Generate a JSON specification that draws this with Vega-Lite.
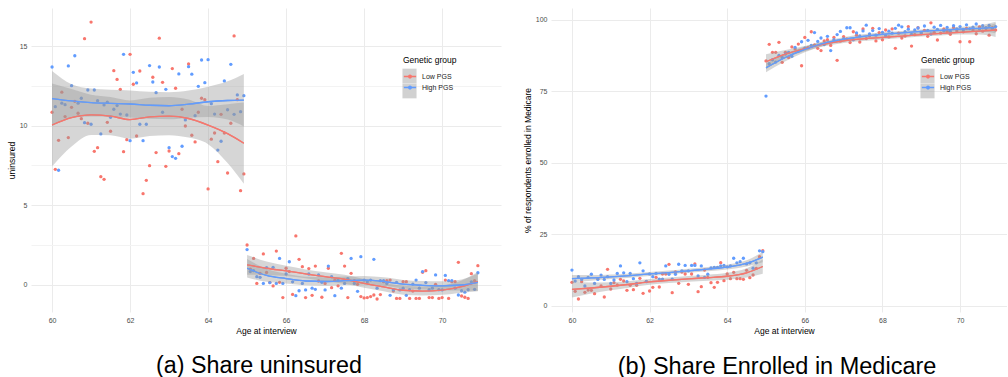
{
  "$schema": "https://vega.github.io/schema/vega-lite/v6.json",
  "padding": {"left": 7, "top": 8, "right": 0, "bottom": 0},
  "background": "white",
  "spacing": 22,
  "resolve": {"scale": {"color": "independent", "fill": "independent"}, "legend": {"color": "independent", "fill": "independent"}},
  "config": {
    "view": {"stroke": null},
    "font": "Liberation Sans",
    "axis": {"domain": false, "ticks": false, "labelFontSize": 7, "labelColor": "#4D4D4D", "labelFont": "Liberation Sans", "titleFont": "Liberation Sans", "titleFontSize": 8.5, "titleFontWeight": "normal", "titleColor": "#000000", "gridColor": "#EBEBEB", "gridWidth": 1, "labelPadding": 4},
    "legend": {"labelFont": "Liberation Sans", "titleFont": "Liberation Sans"}
  },
  "datasets": {
    "unins_pts": [
      {"age":60,"Low PGS":10.84,"High PGS":13.68},{"age":60.083,"Low PGS":7.26,"High PGS":11.19},{"age":60.167,"Low PGS":9.08,"High PGS":7.2},{"age":60.25,"Low PGS":12.1,"High PGS":11.41},{"age":60.333,"Low PGS":10.57,"High PGS":11.32},{"age":60.417,"Low PGS":9.25,"High PGS":13.75},{"age":60.5,"Low PGS":11.15,"High PGS":12.51},{"age":60.583,"Low PGS":11.53,"High PGS":14.39},{"age":60.667,"Low PGS":10.78,"High PGS":11.41},{"age":60.75,"Low PGS":10.44,"High PGS":11.72},{"age":60.833,"Low PGS":15.46,"High PGS":10.19},{"age":60.917,"Low PGS":10.15,"High PGS":12.24},
      {"age":61,"Low PGS":16.5,"High PGS":10.09},{"age":61.083,"Low PGS":8.39,"High PGS":12.24},{"age":61.167,"Low PGS":8.62,"High PGS":11.57},{"age":61.25,"Low PGS":6.8,"High PGS":9.48},{"age":61.333,"Low PGS":6.63,"High PGS":11.3},{"age":61.417,"Low PGS":10.21,"High PGS":11.47},{"age":61.5,"Low PGS":9.65,"High PGS":10.53},{"age":61.583,"Low PGS":13.45,"High PGS":11.03},{"age":61.667,"Low PGS":12.9,"High PGS":11.26},{"age":61.75,"Low PGS":12.28,"High PGS":10.73},{"age":61.833,"Low PGS":8.37,"High PGS":14.48},{"age":61.917,"Low PGS":9.12,"High PGS":10.67},
      {"age":62,"Low PGS":14.48,"High PGS":9.06},{"age":62.083,"Low PGS":12.6,"High PGS":13.35},{"age":62.167,"Low PGS":9.35,"High PGS":12.68},{"age":62.25,"Low PGS":13.43,"High PGS":10.09},{"age":62.333,"Low PGS":5.73,"High PGS":9.06},{"age":62.417,"Low PGS":6.57,"High PGS":10.09},{"age":62.5,"Low PGS":7.49,"High PGS":13.77},{"age":62.583,"Low PGS":13.04,"High PGS":12.74},{"age":62.667,"Low PGS":8.31,"High PGS":12.07},{"age":62.75,"Low PGS":15.49,"High PGS":13.68},{"age":62.833,"Low PGS":12.72,"High PGS":10.84},{"age":62.917,"Low PGS":7.45,"High PGS":12.28},
      {"age":63,"Low PGS":8.41,"High PGS":8.62},{"age":63.083,"Low PGS":13.58,"High PGS":8.06},{"age":63.167,"Low PGS":12.35,"High PGS":7.95},{"age":63.25,"Low PGS":8.24,"High PGS":13.25},{"age":63.333,"Low PGS":11.03,"High PGS":8.71},{"age":63.417,"Low PGS":9.98,"High PGS":10.36},{"age":63.5,"Low PGS":13.87,"High PGS":13.7},{"age":63.583,"Low PGS":9.4,"High PGS":13.23},{"age":63.667,"Low PGS":8.98,"High PGS":10.63},{"age":63.75,"Low PGS":10.84,"High PGS":12.47},{"age":63.833,"Low PGS":11.72,"High PGS":14.12},{"age":63.917,"Low PGS":11.63,"High PGS":12.7},
      {"age":64,"Low PGS":6.03,"High PGS":14.14},{"age":64.083,"Low PGS":9.15,"High PGS":11.38},{"age":64.167,"Low PGS":9.54,"High PGS":10.73},{"age":64.25,"Low PGS":7.74,"High PGS":8.47},{"age":64.333,"Low PGS":10.71,"High PGS":9.02},{"age":64.417,"Low PGS":9.54,"High PGS":12.81},{"age":64.5,"Low PGS":7.03,"High PGS":11.0},{"age":64.583,"Low PGS":10.15,"High PGS":13.85},{"age":64.667,"Low PGS":15.63,"High PGS":10.71},{"age":64.75,"Low PGS":11.63,"High PGS":11.93},{"age":64.833,"Low PGS":5.92,"High PGS":10.88},{"age":64.917,"Low PGS":6.97,"High PGS":11.88},
      {"age":65,"Low PGS":2.51,"High PGS":2.22},{"age":65.083,"Low PGS":1.0,"High PGS":0.84},{"age":65.167,"Low PGS":1.67,"High PGS":0.9},{"age":65.25,"Low PGS":0.1,"High PGS":0.52},{"age":65.333,"Low PGS":0.73,"High PGS":0.48},{"age":65.417,"Low PGS":1.95,"High PGS":0.1},{"age":65.5,"Low PGS":0.79,"High PGS":1.09},{"age":65.583,"Low PGS":0.15,"High PGS":0.15},{"age":65.667,"Low PGS":-0.06,"High PGS":1.11},{"age":65.75,"Low PGS":2.13,"High PGS":0.1},{"age":65.833,"Low PGS":0.17,"High PGS":1.67},{"age":65.917,"Low PGS":-0.79,"High PGS":0.1},
      {"age":66,"Low PGS":1.05,"High PGS":0.69},{"age":66.083,"Low PGS":0.84,"High PGS":1.46},{"age":66.167,"Low PGS":-0.59,"High PGS":0.2},{"age":66.25,"Low PGS":3.08,"High PGS":-0.67},{"age":66.333,"Low PGS":1.61,"High PGS":-0.36},{"age":66.417,"Low PGS":1.15,"High PGS":0.1},{"age":66.5,"Low PGS":-0.79,"High PGS":-0.31},{"age":66.583,"Low PGS":1.03,"High PGS":0.69},{"age":66.667,"Low PGS":-0.65,"High PGS":-0.2},{"age":66.75,"Low PGS":1.19,"High PGS":-0.27},{"age":66.833,"Low PGS":0.25,"High PGS":0.63},{"age":66.917,"Low PGS":-0.77,"High PGS":0.17},
      {"age":67,"Low PGS":0.1,"High PGS":-0.31},{"age":67.083,"Low PGS":1.05,"High PGS":1.19},{"age":67.167,"Low PGS":-0.17,"High PGS":0.52},{"age":67.25,"Low PGS":0.3,"High PGS":-0.67},{"age":67.333,"Low PGS":-0.05,"High PGS":0.31},{"age":67.417,"Low PGS":1.99,"High PGS":-0.2},{"age":67.5,"Low PGS":1.19,"High PGS":0.1},{"age":67.583,"Low PGS":-0.79,"High PGS":0.4},{"age":67.667,"Low PGS":0.73,"High PGS":1.67},{"age":67.75,"Low PGS":0.27,"High PGS":0.1},{"age":67.833,"Low PGS":0.04,"High PGS":-0.4},{"age":67.917,"Low PGS":-0.73,"High PGS":1.78},
      {"age":68,"Low PGS":-0.81,"High PGS":0.31},{"age":68.083,"Low PGS":-0.79,"High PGS":0.2},{"age":68.167,"Low PGS":-0.73,"High PGS":0.31},{"age":68.25,"Low PGS":-0.63,"High PGS":1.61},{"age":68.333,"Low PGS":-0.88,"High PGS":-0.2},{"age":68.417,"Low PGS":-0.6,"High PGS":0.27},{"age":68.5,"Low PGS":0.21,"High PGS":0.27},{"age":68.583,"Low PGS":0.27,"High PGS":0.1},{"age":68.667,"Low PGS":0.31,"High PGS":-0.65},{"age":68.75,"Low PGS":-0.38,"High PGS":-0.3},{"age":68.833,"Low PGS":-0.84,"High PGS":0.17},{"age":68.917,"Low PGS":-0.84,"High PGS":-0.31},
      {"age":69,"Low PGS":0.21,"High PGS":-0.2},{"age":69.083,"Low PGS":0.21,"High PGS":-0.65},{"age":69.167,"Low PGS":-0.84,"High PGS":-0.3},{"age":69.25,"Low PGS":-0.38,"High PGS":0.06},{"age":69.333,"Low PGS":-0.84,"High PGS":0.31},{"age":69.417,"Low PGS":-0.84,"High PGS":-0.2},{"age":69.5,"Low PGS":0.8,"High PGS":0.84},{"age":69.583,"Low PGS":0.9,"High PGS":0.15},{"age":69.667,"Low PGS":-0.79,"High PGS":-0.3},{"age":69.75,"Low PGS":-0.79,"High PGS":-0.2},{"age":69.833,"Low PGS":0.04,"High PGS":0.63},{"age":69.917,"Low PGS":-0.84,"High PGS":-0.3},
      {"age":70,"Low PGS":-0.79,"High PGS":-0.31},{"age":70.083,"Low PGS":0.31,"High PGS":0.6},{"age":70.167,"Low PGS":-0.84,"High PGS":0.27},{"age":70.25,"Low PGS":0.21,"High PGS":0.27},{"age":70.333,"Low PGS":0.21,"High PGS":-0.2},{"age":70.417,"Low PGS":1.42,"High PGS":-0.63},{"age":70.5,"Low PGS":-0.69,"High PGS":-0.36},{"age":70.583,"Low PGS":-0.77,"High PGS":-0.45},{"age":70.667,"Low PGS":-0.84,"High PGS":-0.3},{"age":70.75,"Low PGS":0.71,"High PGS":0.2},{"age":70.833,"Low PGS":0.27,"High PGS":-0.27},{"age":70.917,"Low PGS":1.21,"High PGS":0.77}
    ],
    "unins_fit": [
      {"group":"High PGS","seg":1,"age":60,"fit":11.7,"lo":9.97,"hi":13.43},{"group":"High PGS","seg":1,"age":60.5,"fit":11.55,"lo":10.5,"hi":12.6},{"group":"High PGS","seg":1,"age":61,"fit":11.45,"lo":10.57,"hi":12.33},{"group":"High PGS","seg":1,"age":61.5,"fit":11.4,"lo":10.55,"hi":12.25},{"group":"High PGS","seg":1,"age":62,"fit":11.36,"lo":10.51,"hi":12.21},{"group":"High PGS","seg":1,"age":62.5,"fit":11.28,"lo":10.43,"hi":12.13},{"group":"High PGS","seg":1,"age":63,"fit":11.25,"lo":10.4,"hi":12.1},{"group":"High PGS","seg":1,"age":63.5,"fit":11.35,"lo":10.5,"hi":12.2},{"group":"High PGS","seg":1,"age":64,"fit":11.5,"lo":10.55,"hi":12.45},{"group":"High PGS","seg":1,"age":64.5,"fit":11.58,"lo":10.38,"hi":12.78},{"group":"High PGS","seg":1,"age":64.917,"fit":11.6,"lo":9.95,"hi":13.25},
      {"group":"Low PGS","seg":1,"age":60,"fit":10.04,"lo":7.44,"hi":12.64},{"group":"Low PGS","seg":1,"age":60.5,"fit":10.5,"lo":8.7,"hi":12.3},{"group":"Low PGS","seg":1,"age":61,"fit":10.68,"lo":9.42,"hi":11.94},{"group":"Low PGS","seg":1,"age":61.5,"fit":10.6,"lo":9.4,"hi":11.8},{"group":"Low PGS","seg":1,"age":62,"fit":10.38,"lo":9.18,"hi":11.58},{"group":"Low PGS","seg":1,"age":62.5,"fit":10.55,"lo":9.35,"hi":11.75},{"group":"Low PGS","seg":1,"age":63,"fit":10.6,"lo":9.4,"hi":11.8},{"group":"Low PGS","seg":1,"age":63.5,"fit":10.45,"lo":9.25,"hi":11.65},{"group":"Low PGS","seg":1,"age":64,"fit":10.04,"lo":8.84,"hi":11.24},{"group":"Low PGS","seg":1,"age":64.5,"fit":9.5,"lo":7.65,"hi":11.35},{"group":"Low PGS","seg":1,"age":64.917,"fit":8.9,"lo":6.35,"hi":11.45},
      {"group":"Low PGS","seg":2,"age":65,"fit":1.26,"lo":0.64,"hi":1.88},{"group":"Low PGS","seg":2,"age":65.5,"fit":1.05,"lo":0.63,"hi":1.47},{"group":"Low PGS","seg":2,"age":66,"fit":0.88,"lo":0.56,"hi":1.2},{"group":"Low PGS","seg":2,"age":66.5,"fit":0.7,"lo":0.42,"hi":0.98},{"group":"Low PGS","seg":2,"age":67,"fit":0.52,"lo":0.24,"hi":0.8},{"group":"Low PGS","seg":2,"age":67.5,"fit":0.36,"lo":0.08,"hi":0.64},{"group":"Low PGS","seg":2,"age":68,"fit":0.1,"lo":-0.18,"hi":0.38},{"group":"Low PGS","seg":2,"age":68.5,"fit":-0.12,"lo":-0.4,"hi":0.16},{"group":"Low PGS","seg":2,"age":69,"fit":-0.33,"lo":-0.61,"hi":-0.05},{"group":"Low PGS","seg":2,"age":69.5,"fit":-0.38,"lo":-0.66,"hi":-0.1},{"group":"Low PGS","seg":2,"age":70,"fit":-0.32,"lo":-0.62,"hi":-0.02},{"group":"Low PGS","seg":2,"age":70.5,"fit":-0.1,"lo":-0.48,"hi":0.28},{"group":"Low PGS","seg":2,"age":70.917,"fit":0.21,"lo":-0.39,"hi":0.81},
      {"group":"High PGS","seg":2,"age":65,"fit":1.05,"lo":0.47,"hi":1.63},{"group":"High PGS","seg":2,"age":65.5,"fit":0.6,"lo":0.2,"hi":1.0},{"group":"High PGS","seg":2,"age":66,"fit":0.4,"lo":0.1,"hi":0.7},{"group":"High PGS","seg":2,"age":66.5,"fit":0.25,"lo":-0.02,"hi":0.52},{"group":"High PGS","seg":2,"age":67,"fit":0.22,"lo":-0.05,"hi":0.49},{"group":"High PGS","seg":2,"age":67.5,"fit":0.27,"lo":0.0,"hi":0.54},{"group":"High PGS","seg":2,"age":68,"fit":0.3,"lo":0.03,"hi":0.57},{"group":"High PGS","seg":2,"age":68.5,"fit":0.22,"lo":-0.05,"hi":0.49},{"group":"High PGS","seg":2,"age":69,"fit":0.05,"lo":-0.22,"hi":0.32},{"group":"High PGS","seg":2,"age":69.5,"fit":-0.02,"lo":-0.29,"hi":0.25},{"group":"High PGS","seg":2,"age":70,"fit":-0.05,"lo":-0.33,"hi":0.23},{"group":"High PGS","seg":2,"age":70.5,"fit":0.0,"lo":-0.35,"hi":0.35},{"group":"High PGS","seg":2,"age":70.917,"fit":0.17,"lo":-0.38,"hi":0.72}
    ],
    "med_pts": [
      {"age":60,"Low PGS":8.17,"High PGS":12.47},{"age":60.083,"Low PGS":5.02,"High PGS":8.6},{"age":60.167,"Low PGS":2.34,"High PGS":10.15},{"age":60.25,"Low PGS":8.4,"High PGS":9.2},{"age":60.333,"Low PGS":4.67,"High PGS":6.9},{"age":60.417,"Low PGS":5.49,"High PGS":9.9},{"age":60.5,"Low PGS":5.37,"High PGS":11.0},{"age":60.583,"Low PGS":4.21,"High PGS":7.8},{"age":60.667,"Low PGS":9.45,"High PGS":9.2},{"age":60.75,"Low PGS":6.89,"High PGS":10.7},{"age":60.833,"Low PGS":3.04,"High PGS":9.2},{"age":60.917,"Low PGS":12.71,"High PGS":10.15},
      {"age":61,"Low PGS":5.84,"High PGS":7.8},{"age":61.083,"Low PGS":8.05,"High PGS":9.0},{"age":61.167,"Low PGS":7.24,"High PGS":11.3},{"age":61.25,"Low PGS":9.22,"High PGS":13.9},{"age":61.333,"Low PGS":8.64,"High PGS":11.5},{"age":61.417,"Low PGS":5.37,"High PGS":8.4},{"age":61.5,"Low PGS":7.12,"High PGS":11.3},{"age":61.583,"Low PGS":5.61,"High PGS":9.45},{"age":61.667,"Low PGS":7.12,"High PGS":7.8},{"age":61.75,"Low PGS":9.57,"High PGS":15.0},{"age":61.833,"Low PGS":4.32,"High PGS":12.2},{"age":61.917,"Low PGS":8.52,"High PGS":8.4},
      {"age":62,"Low PGS":5.14,"High PGS":11.1},{"age":62.083,"Low PGS":6.42,"High PGS":10.15},{"age":62.167,"Low PGS":9.92,"High PGS":11.3},{"age":62.25,"Low PGS":6.54,"High PGS":9.3},{"age":62.333,"Low PGS":11.08,"High PGS":9.3},{"age":62.417,"Low PGS":11.08,"High PGS":13.9},{"age":62.5,"Low PGS":14.46,"High PGS":11.0},{"age":62.583,"Low PGS":4.56,"High PGS":9.3},{"age":62.667,"Low PGS":11.78,"High PGS":11.0},{"age":62.75,"Low PGS":7.82,"High PGS":14.5},{"age":62.833,"Low PGS":11.78,"High PGS":12.2},{"age":62.917,"Low PGS":11.08,"High PGS":14.1},
      {"age":63,"Low PGS":7.47,"High PGS":12.2},{"age":63.083,"Low PGS":11.08,"High PGS":14.1},{"age":63.167,"Low PGS":14.58,"High PGS":14.1},{"age":63.25,"Low PGS":4.91,"High PGS":10.4},{"age":63.333,"Low PGS":6.66,"High PGS":13.9},{"age":63.417,"Low PGS":12.48,"High PGS":9.9},{"age":63.5,"Low PGS":9.92,"High PGS":11.0},{"age":63.583,"Low PGS":8.05,"High PGS":13.2},{"age":63.667,"Low PGS":6.42,"High PGS":13.4},{"age":63.75,"Low PGS":8.17,"High PGS":13.4},{"age":63.833,"Low PGS":15.05,"High PGS":13.9},{"age":63.917,"Low PGS":8.75,"High PGS":14.1},
      {"age":64,"Low PGS":11.08,"High PGS":13.6},{"age":64.083,"Low PGS":9.45,"High PGS":13.9},{"age":64.167,"Low PGS":11.67,"High PGS":16.6},{"age":64.25,"Low PGS":9.45,"High PGS":15.0},{"age":64.333,"Low PGS":9.45,"High PGS":15.4},{"age":64.417,"Low PGS":9.22,"High PGS":16.6},{"age":64.5,"Low PGS":12.36,"High PGS":14.6},{"age":64.583,"Low PGS":9.8,"High PGS":15.0},{"age":64.667,"Low PGS":10.73,"High PGS":13.1},{"age":64.75,"Low PGS":13.07,"High PGS":15.0},{"age":64.833,"Low PGS":17.14,"High PGS":19.2},{"age":64.917,"Low PGS":19.24,"High PGS":18.9},
      {"age":65,"Low PGS":85.6,"High PGS":73.3},{"age":65.083,"Low PGS":91.4,"High PGS":84.6},{"age":65.167,"Low PGS":88.6,"High PGS":86.0},{"age":65.25,"Low PGS":88.6,"High PGS":85.2},{"age":65.333,"Low PGS":92.1,"High PGS":87.5},{"age":65.417,"Low PGS":85.1,"High PGS":86.8},{"age":65.5,"Low PGS":88.6,"High PGS":88.0},{"age":65.583,"Low PGS":86.8,"High PGS":88.6},{"age":65.667,"Low PGS":90.5,"High PGS":87.2},{"age":65.75,"Low PGS":89.8,"High PGS":90.3},{"age":65.833,"Low PGS":91.5,"High PGS":89.0},{"age":65.917,"Low PGS":83.9,"High PGS":92.3},
      {"age":66,"Low PGS":93.8,"High PGS":90.1},{"age":66.083,"Low PGS":90.2,"High PGS":92.8},{"age":66.167,"Low PGS":95.8,"High PGS":91.0},{"age":66.25,"Low PGS":91.2,"High PGS":95.5},{"age":66.333,"Low PGS":90.0,"High PGS":92.4},{"age":66.417,"Low PGS":89.2,"High PGS":93.6},{"age":66.5,"Low PGS":92.6,"High PGS":91.3},{"age":66.583,"Low PGS":93.0,"High PGS":94.2},{"age":66.667,"Low PGS":91.0,"High PGS":89.2},{"age":66.75,"Low PGS":93.8,"High PGS":93.0},{"age":66.833,"Low PGS":85.8,"High PGS":94.8},{"age":66.917,"Low PGS":92.5,"High PGS":95.9},
      {"age":67,"Low PGS":94.1,"High PGS":93.3},{"age":67.083,"Low PGS":93.3,"High PGS":97.2},{"age":67.167,"Low PGS":92.0,"High PGS":97.2},{"age":67.25,"Low PGS":95.8,"High PGS":93.0},{"age":67.333,"Low PGS":94.6,"High PGS":95.4},{"age":67.417,"Low PGS":92.2,"High PGS":94.3},{"age":67.5,"Low PGS":96.8,"High PGS":96.1},{"age":67.583,"Low PGS":93.4,"High PGS":98.1},{"age":67.667,"Low PGS":94.4,"High PGS":95.0},{"age":67.75,"Low PGS":97.0,"High PGS":96.2},{"age":67.833,"Low PGS":92.6,"High PGS":94.6},{"age":67.917,"Low PGS":95.5,"High PGS":96.9},
      {"age":68,"Low PGS":93.0,"High PGS":95.6},{"age":68.083,"Low PGS":96.4,"High PGS":94.4},{"age":68.167,"Low PGS":94.0,"High PGS":96.0},{"age":68.25,"Low PGS":96.8,"High PGS":95.3},{"age":68.333,"Low PGS":90.0,"High PGS":97.0},{"age":68.417,"Low PGS":95.3,"High PGS":98.1},{"age":68.5,"Low PGS":93.6,"High PGS":97.5},{"age":68.583,"Low PGS":94.3,"High PGS":95.8},{"age":68.667,"Low PGS":97.6,"High PGS":96.7},{"age":68.75,"Low PGS":90.8,"High PGS":94.9},{"age":68.833,"Low PGS":94.8,"High PGS":96.4},{"age":68.917,"Low PGS":97.2,"High PGS":97.1},
      {"age":69,"Low PGS":95.1,"High PGS":95.5},{"age":69.083,"Low PGS":96.3,"High PGS":97.8},{"age":69.167,"Low PGS":94.2,"High PGS":96.3},{"age":69.25,"Low PGS":98.9,"High PGS":95.0},{"age":69.333,"Low PGS":95.6,"High PGS":97.4},{"age":69.417,"Low PGS":92.9,"High PGS":96.6},{"age":69.5,"Low PGS":95.3,"High PGS":98.0},{"age":69.583,"Low PGS":96.8,"High PGS":96.1},{"age":69.667,"Low PGS":95.9,"High PGS":97.3},{"age":69.75,"Low PGS":94.9,"High PGS":95.9},{"age":69.833,"Low PGS":97.3,"High PGS":97.9},{"age":69.917,"Low PGS":96.1,"High PGS":96.8},
      {"age":70,"Low PGS":92.3,"High PGS":97.6},{"age":70.083,"Low PGS":95.8,"High PGS":96.5},{"age":70.167,"Low PGS":97.0,"High PGS":98.2},{"age":70.25,"Low PGS":92.3,"High PGS":96.9},{"age":70.333,"Low PGS":96.4,"High PGS":97.4},{"age":70.417,"Low PGS":95.1,"High PGS":98.5},{"age":70.5,"Low PGS":97.5,"High PGS":96.8},{"age":70.583,"Low PGS":96.0,"High PGS":97.9},{"age":70.667,"Low PGS":96.9,"High PGS":97.2},{"age":70.75,"Low PGS":94.6,"High PGS":98.0},{"age":70.833,"Low PGS":97.2,"High PGS":96.9},{"age":70.917,"Low PGS":96.4,"High PGS":97.6}
    ],
    "med_fit": [
      {"group":"High PGS","seg":1,"age":60,"fit":9.45,"lo":8.15,"hi":10.75},{"group":"High PGS","seg":1,"age":60.5,"fit":9.7,"lo":8.7,"hi":10.7},{"group":"High PGS","seg":1,"age":61,"fit":10.1,"lo":9.3,"hi":10.9},{"group":"High PGS","seg":1,"age":61.5,"fit":10.55,"lo":9.8,"hi":11.3},{"group":"High PGS","seg":1,"age":62,"fit":11.1,"lo":10.4,"hi":11.8},{"group":"High PGS","seg":1,"age":62.5,"fit":11.6,"lo":10.9,"hi":12.3},{"group":"High PGS","seg":1,"age":63,"fit":12.2,"lo":11.5,"hi":12.9},{"group":"High PGS","seg":1,"age":63.5,"fit":12.8,"lo":12.05,"hi":13.55},{"group":"High PGS","seg":1,"age":64,"fit":13.5,"lo":12.65,"hi":14.35},{"group":"High PGS","seg":1,"age":64.5,"fit":14.8,"lo":13.7,"hi":15.9},{"group":"High PGS","seg":1,"age":64.917,"fit":17.0,"lo":15.2,"hi":18.8},
      {"group":"Low PGS","seg":1,"age":60,"fit":5.7,"lo":2.9,"hi":8.5},{"group":"Low PGS","seg":1,"age":60.5,"fit":6.2,"lo":4.3,"hi":8.1},{"group":"Low PGS","seg":1,"age":61,"fit":6.8,"lo":5.4,"hi":8.2},{"group":"Low PGS","seg":1,"age":61.5,"fit":7.5,"lo":6.4,"hi":8.6},{"group":"Low PGS","seg":1,"age":62,"fit":8.3,"lo":7.3,"hi":9.3},{"group":"Low PGS","seg":1,"age":62.5,"fit":8.9,"lo":7.9,"hi":9.9},{"group":"Low PGS","seg":1,"age":63,"fit":9.4,"lo":8.4,"hi":10.4},{"group":"Low PGS","seg":1,"age":63.5,"fit":9.8,"lo":8.75,"hi":10.85},{"group":"Low PGS","seg":1,"age":64,"fit":10.3,"lo":9.1,"hi":11.5},{"group":"Low PGS","seg":1,"age":64.5,"fit":11.5,"lo":9.9,"hi":13.1},{"group":"Low PGS","seg":1,"age":64.917,"fit":13.7,"lo":11.2,"hi":16.2},
      {"group":"Low PGS","seg":2,"age":65,"fit":85.3,"lo":82.7,"hi":87.9},{"group":"Low PGS","seg":2,"age":65.5,"fit":88.0,"lo":86.6,"hi":89.4},{"group":"Low PGS","seg":2,"age":66,"fit":89.9,"lo":89.0,"hi":90.8},{"group":"Low PGS","seg":2,"age":66.5,"fit":91.5,"lo":90.7,"hi":92.3},{"group":"Low PGS","seg":2,"age":67,"fit":92.6,"lo":91.9,"hi":93.3},{"group":"Low PGS","seg":2,"age":67.5,"fit":93.3,"lo":92.6,"hi":94.0},{"group":"Low PGS","seg":2,"age":68,"fit":93.8,"lo":93.1,"hi":94.5},{"group":"Low PGS","seg":2,"age":68.5,"fit":94.3,"lo":93.6,"hi":95.0},{"group":"Low PGS","seg":2,"age":69,"fit":94.8,"lo":94.1,"hi":95.5},{"group":"Low PGS","seg":2,"age":69.5,"fit":95.2,"lo":94.5,"hi":95.9},{"group":"Low PGS","seg":2,"age":70,"fit":95.6,"lo":94.8,"hi":96.4},{"group":"Low PGS","seg":2,"age":70.5,"fit":96.0,"lo":94.8,"hi":97.2},{"group":"Low PGS","seg":2,"age":70.917,"fit":96.4,"lo":94.0,"hi":98.8},
      {"group":"High PGS","seg":2,"age":65,"fit":83.2,"lo":81.6,"hi":84.8},{"group":"High PGS","seg":2,"age":65.5,"fit":86.8,"lo":85.5,"hi":88.1},{"group":"High PGS","seg":2,"age":66,"fit":89.6,"lo":88.6,"hi":90.6},{"group":"High PGS","seg":2,"age":66.5,"fit":91.8,"lo":91.0,"hi":92.6},{"group":"High PGS","seg":2,"age":67,"fit":93.2,"lo":92.5,"hi":93.9},{"group":"High PGS","seg":2,"age":67.5,"fit":94.2,"lo":93.5,"hi":94.9},{"group":"High PGS","seg":2,"age":68,"fit":94.9,"lo":94.2,"hi":95.6},{"group":"High PGS","seg":2,"age":68.5,"fit":95.4,"lo":94.7,"hi":96.1},{"group":"High PGS","seg":2,"age":69,"fit":95.9,"lo":95.2,"hi":96.6},{"group":"High PGS","seg":2,"age":69.5,"fit":96.3,"lo":95.6,"hi":97.0},{"group":"High PGS","seg":2,"age":70,"fit":96.7,"lo":95.9,"hi":97.5},{"group":"High PGS","seg":2,"age":70.5,"fit":97.0,"lo":95.9,"hi":98.1},{"group":"High PGS","seg":2,"age":70.917,"fit":97.3,"lo":95.3,"hi":99.3}
    ]
  },
  "hconcat": [
    {
      "width": 470,
      "height": 304,
      "title": {"text": "(a) Share uninsured", "orient": "bottom", "anchor": "middle", "fontSize": 23.3, "fontWeight": "normal", "font": "Liberation Sans", "color": "#000000", "offset": 20, "dx": -7},
      "layer": [
        {
          "data": {"name": "unins_fit"},
          "mark": {"type": "line", "strokeWidth": 1.3, "interpolate": "monotone"},
          "encoding": {
            "x": {"field": "age", "type": "quantitative", "scale": {"domain": [59.46, 71.51], "nice": false, "zero": false},
                  "axis": {"values": [60, 62, 64, 66, 68, 70], "format": "d", "title": "Age at interview", "titlePadding": 3}},
            "y": {"field": "fit", "type": "quantitative", "scale": {"domain": [-1.695, 17.385], "nice": false, "zero": false},
                  "axis": {"values": [0, 2.5, 5, 7.5, 10, 12.5, 15], "title": "uninsured", "titlePadding": 3,
                           "labelExpr": "datum.value % 5 === 0 ? datum.label : ''",
                           "gridColor": {"condition": {"test": "datum.value % 5 !== 0", "value": "#F3F3F3"}, "value": "#EBEBEB"}}},
            "color": {"field": "group", "type": "nominal", "scale": {"domain": ["Low PGS", "High PGS"], "range": ["#F8766D", "#619CFF"]},
                      "legend": {"orient": "none", "legendX": 372, "legendY": 48, "title": "Genetic group", "titleFontSize": 8.5, "titleFontWeight": "normal", "titleColor": "#000000", "titlePadding": 5, "labelFontSize": 7, "labelColor": "#1A1A1A", "labelOffset": 5, "symbolType": "M-1,0H1M0.22,0A0.22,0.22,0,1,1,-0.22,0A0.22,0.22,0,1,1,0.22,0", "symbolSize": 150, "symbolStrokeWidth": 1.3, "rowPadding": 0, "zindex": 2}},
            "detail": {"field": "seg"}
          }
        },
        {
          "data": {"name": "unins_pts"},
          "transform": [{"fold": ["Low PGS", "High PGS"], "as": ["group", "value"]}],
          "mark": {"type": "circle", "size": 11, "opacity": 1},
          "encoding": {
            "x": {"field": "age", "type": "quantitative"},
            "y": {"field": "value", "type": "quantitative"},
            "color": {"field": "group", "type": "nominal",
                      "legend": {"orient": "none", "legendX": 372, "legendY": 48, "title": "Genetic group", "titleFontSize": 8.5, "titleFontWeight": "normal", "titleColor": "#000000", "titlePadding": 5, "labelFontSize": 7, "labelColor": "#1A1A1A", "labelOffset": 5, "symbolType": "M-1,0H1M0.22,0A0.22,0.22,0,1,1,-0.22,0A0.22,0.22,0,1,1,0.22,0", "symbolSize": 150, "symbolStrokeWidth": 1.3, "rowPadding": 0, "zindex": 2}}
          }
        },
        {
          "data": {"name": "unins_fit"},
          "mark": {"type": "area", "opacity": 0.4, "interpolate": "monotone"},
          "encoding": {
            "x": {"field": "age", "type": "quantitative"},
            "y": {"field": "lo", "type": "quantitative"},
            "y2": {"field": "hi"},
            "fill": {"field": "group", "type": "nominal", "scale": {"domain": ["High PGS", "Low PGS"], "range": ["#999999", "#999999"]},
                     "legend": {"orient": "none", "legendX": 372, "legendY": 48, "title": " ", "titleFontSize": 8.5, "titleFontWeight": "normal", "titlePadding": 5, "labelFontSize": 7, "labelExpr": "''", "labelOffset": 5, "symbolType": "M-1.15,-1.2H1.15V1.2H-1.15Z", "symbolSize": 150, "symbolStrokeWidth": 0, "symbolOpacity": 0.45, "rowPadding": 0, "zindex": 1}},
            "detail": {"field": "seg"}
          }
        },
        {
          "data": {"name": "unins_fit"},
          "mark": {"type": "line", "strokeWidth": 1.3, "interpolate": "monotone"},
          "encoding": {
            "x": {"field": "age", "type": "quantitative"},
            "y": {"field": "fit", "type": "quantitative"},
            "color": {"field": "group", "type": "nominal",
                      "legend": {"orient": "none", "legendX": 372, "legendY": 48, "title": "Genetic group", "titleFontSize": 8.5, "titleFontWeight": "normal", "titleColor": "#000000", "titlePadding": 5, "labelFontSize": 7, "labelColor": "#1A1A1A", "labelOffset": 5, "symbolType": "M-1,0H1M0.22,0A0.22,0.22,0,1,1,-0.22,0A0.22,0.22,0,1,1,0.22,0", "symbolSize": 150, "symbolStrokeWidth": 1.3, "rowPadding": 0, "zindex": 2}},
            "detail": {"field": "seg"}
          }
        }
      ]
    },
    {
      "width": 456,
      "height": 304,
      "title": {"text": "(b) Share Enrolled in Medicare", "orient": "bottom", "anchor": "middle", "fontSize": 23.5, "fontWeight": "normal", "font": "Liberation Sans", "color": "#000000", "offset": 20, "dx": -2},
      "layer": [
        {
          "data": {"name": "med_fit"},
          "mark": {"type": "line", "strokeWidth": 1.3, "interpolate": "monotone"},
          "encoding": {
            "x": {"field": "age", "type": "quantitative", "scale": {"domain": [59.46, 71.21], "nice": false, "zero": false},
                  "axis": {"values": [60, 62, 64, 66, 68, 70], "format": "d", "title": "Age at interview", "titlePadding": 3, "titleX": 233}},
            "y": {"field": "fit", "type": "quantitative", "scale": {"domain": [-2.2, 104.1], "nice": false, "zero": false},
                  "axis": {"values": [0, 12.5, 25, 37.5, 50, 62.5, 75, 87.5, 100], "title": "% of respondents enrolled in Medicare", "titlePadding": 3,
                           "labelExpr": "datum.value % 25 === 0 ? datum.label : ''",
                           "gridColor": {"condition": {"test": "datum.value % 25 !== 0", "value": "#F3F3F3"}, "value": "#EBEBEB"}}},
            "color": {"field": "group", "type": "nominal", "scale": {"domain": ["Low PGS", "High PGS"], "range": ["#F8766D", "#619CFF"]},
                      "legend": {"orient": "none", "legendX": 370, "legendY": 48, "title": "Genetic group", "titleFontSize": 8.5, "titleFontWeight": "normal", "titleColor": "#000000", "titlePadding": 5, "labelFontSize": 7, "labelColor": "#1A1A1A", "labelOffset": 5, "symbolType": "M-1,0H1M0.22,0A0.22,0.22,0,1,1,-0.22,0A0.22,0.22,0,1,1,0.22,0", "symbolSize": 150, "symbolStrokeWidth": 1.3, "rowPadding": 0, "zindex": 2}},
            "detail": {"field": "seg"}
          }
        },
        {
          "data": {"name": "med_pts"},
          "transform": [{"fold": ["Low PGS", "High PGS"], "as": ["group", "value"]}],
          "mark": {"type": "circle", "size": 11, "opacity": 1},
          "encoding": {
            "x": {"field": "age", "type": "quantitative"},
            "y": {"field": "value", "type": "quantitative"},
            "color": {"field": "group", "type": "nominal",
                      "legend": {"orient": "none", "legendX": 370, "legendY": 48, "title": "Genetic group", "titleFontSize": 8.5, "titleFontWeight": "normal", "titleColor": "#000000", "titlePadding": 5, "labelFontSize": 7, "labelColor": "#1A1A1A", "labelOffset": 5, "symbolType": "M-1,0H1M0.22,0A0.22,0.22,0,1,1,-0.22,0A0.22,0.22,0,1,1,0.22,0", "symbolSize": 150, "symbolStrokeWidth": 1.3, "rowPadding": 0, "zindex": 2}}
          }
        },
        {
          "data": {"name": "med_fit"},
          "mark": {"type": "area", "opacity": 0.4, "interpolate": "monotone"},
          "encoding": {
            "x": {"field": "age", "type": "quantitative"},
            "y": {"field": "lo", "type": "quantitative"},
            "y2": {"field": "hi"},
            "fill": {"field": "group", "type": "nominal", "scale": {"domain": ["High PGS", "Low PGS"], "range": ["#999999", "#999999"]},
                     "legend": {"orient": "none", "legendX": 370, "legendY": 48, "title": " ", "titleFontSize": 8.5, "titleFontWeight": "normal", "titlePadding": 5, "labelFontSize": 7, "labelExpr": "''", "labelOffset": 5, "symbolType": "M-1.15,-1.2H1.15V1.2H-1.15Z", "symbolSize": 150, "symbolStrokeWidth": 0, "symbolOpacity": 0.45, "rowPadding": 0, "zindex": 1}},
            "detail": {"field": "seg"}
          }
        },
        {
          "data": {"name": "med_fit"},
          "mark": {"type": "line", "strokeWidth": 1.3, "interpolate": "monotone"},
          "encoding": {
            "x": {"field": "age", "type": "quantitative"},
            "y": {"field": "fit", "type": "quantitative"},
            "color": {"field": "group", "type": "nominal",
                      "legend": {"orient": "none", "legendX": 370, "legendY": 48, "title": "Genetic group", "titleFontSize": 8.5, "titleFontWeight": "normal", "titleColor": "#000000", "titlePadding": 5, "labelFontSize": 7, "labelColor": "#1A1A1A", "labelOffset": 5, "symbolType": "M-1,0H1M0.22,0A0.22,0.22,0,1,1,-0.22,0A0.22,0.22,0,1,1,0.22,0", "symbolSize": 150, "symbolStrokeWidth": 1.3, "rowPadding": 0, "zindex": 2}},
            "detail": {"field": "seg"}
          }
        }
      ]
    }
  ]
}
